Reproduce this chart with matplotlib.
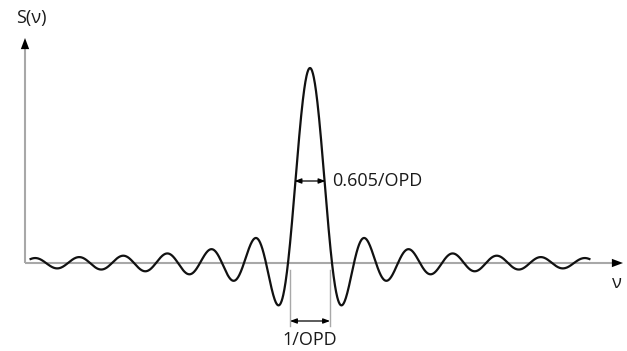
import numpy as np
import matplotlib
matplotlib.use("Agg")
import matplotlib.pyplot as plt

# Parameters of the diagram (sinc spectral line shape, in units of 1/(2*OPD))
peak_height = 1.0
nu_range = [-12.7, 12.7]
fwhm_half = 0.6035          # half of 0.605/OPD in plot units
first_zero = 1.0            # zero of main lobe
labels = {"y": "S(ν)", "x": "ν", "fwhm": "0.605/OPD", "zero": "1/OPD"}

nu = np.linspace(nu_range[0], nu_range[1], 2000)
S = peak_height * np.sinc(nu)

fig = plt.figure(figsize=(6.27, 3.51), dpi=100)
ax = fig.add_axes([0, 0, 1, 1])
ax.set_xlim(-310 / 22, (627 - 310) / 22)
ax.set_ylim(-88 / 195, (351 - 88) / 195)
ax.axis("off")

font = ["Open Sans", "DejaVu Sans"]
axcol = "#a8a8a8"
txtcol = "#1a1a1a"
x_axis0 = (25 - 310) / 22
x_axis1 = (617 - 310) / 22

# axes lines
ax.plot([x_axis0, x_axis1], [0, 0], color=axcol, lw=1.5, zorder=1, solid_capstyle="butt")
ax.plot([x_axis0, x_axis0], [0, (263 - 48) / 195], color=axcol, lw=1.5, zorder=1, solid_capstyle="butt")
# arrowheads
ax.annotate("", xy=((623 - 310) / 22, 0), xytext=((608 - 310) / 22, 0),
            arrowprops=dict(arrowstyle="-|>,head_length=0.8,head_width=0.3", color="black", lw=0, shrinkA=0, shrinkB=0))
ax.annotate("", xy=(x_axis0, (263 - 38) / 195), xytext=(x_axis0, (263 - 53) / 195),
            arrowprops=dict(arrowstyle="-|>,head_length=0.8,head_width=0.3", color="black", lw=0, shrinkA=0, shrinkB=0))

# curve
ax.plot(nu, S, color="#111111", lw=1.6, zorder=3)

# FWHM arrow
y_fw = (263 - 181) / 195
ax.annotate("", xy=(-fwhm_half - 0.1, y_fw), xytext=(fwhm_half + 0.1, y_fw),
            arrowprops=dict(arrowstyle="<|-|>,head_length=0.4,head_width=0.15", color="black", lw=0.9, shrinkA=0, shrinkB=0))
ax.text((332 - 310) / 22, y_fw, labels["fwhm"], fontsize=13, family=font, va="center", ha="left", color=txtcol)

# 1/OPD markers
y_z = (263 - 321) / 195
for s in (-first_zero, first_zero):
    ax.plot([s * 0.91, s * 0.91], [(263 - 270) / 195, (263 - 326) / 195], color=axcol, lw=1.0, zorder=2)
ax.annotate("", xy=(-first_zero * 0.91, y_z), xytext=(first_zero * 0.91, y_z),
            arrowprops=dict(arrowstyle="<|-|>,head_length=0.4,head_width=0.15", color="black", lw=0.9, shrinkA=0, shrinkB=0))
ax.text(0, (263 - 340) / 195, labels["zero"], fontsize=13, family=font, va="center", ha="center", color=txtcol)

# axis labels
ax.text((31 - 310) / 22, (263 - 18) / 195, labels["y"], fontsize=13, family=font, va="center", ha="center", color=txtcol)
ax.text((617 - 310) / 22, (263 - 283) / 195, labels["x"], fontsize=13, family=font, va="center", ha="center", color=txtcol)

fig.savefig("out.png", dpi=100)
